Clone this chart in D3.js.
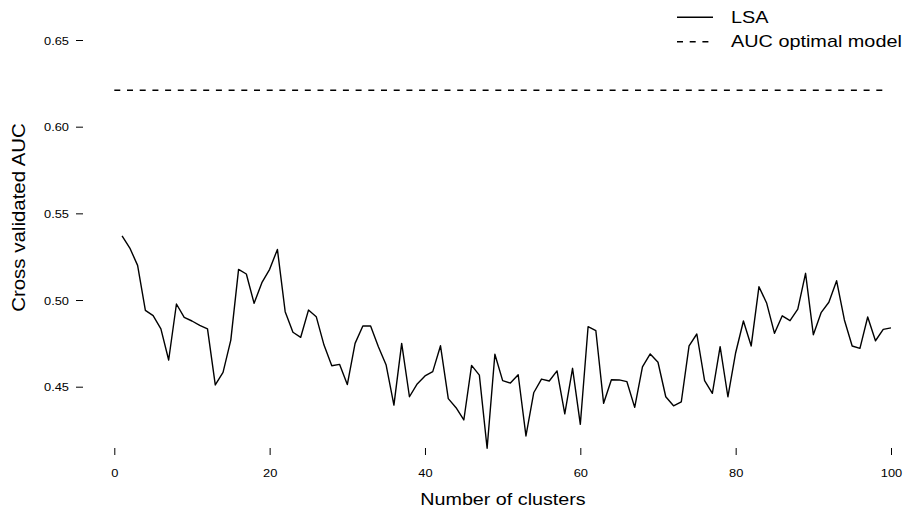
<!DOCTYPE html>
<html>
<head>
<meta charset="utf-8">
<script src="https://cdn.jsdelivr.net/npm/d3@7"></script>
<style>
  body { margin: 0; background: #fff; }
  text { font-family: "Liberation Sans", Arial, sans-serif; fill: #000; }
</style>
</head>
<body>
<div id="container"></div>
<script>
// chart size
let w = 908;
let h = 510;

// number of clusters 1..100
let clusters = d3.range(1, 101);
// cross validated AUC for LSA
let lsaAUC = [
  0.537, 0.530, 0.520, 0.494, 0.491, 0.4834, 0.4654, 0.4977, 0.490, 0.4879,
  0.4854, 0.4834, 0.451, 0.4583, 0.4769, 0.5177, 0.515, 0.4981, 0.510, 0.5177,
  0.5292, 0.4933, 0.4814, 0.4785, 0.4942, 0.4904, 0.4740, 0.4621, 0.4629, 0.4512,
  0.4750, 0.4850, 0.4850, 0.4731, 0.4625, 0.4394, 0.4750, 0.4442, 0.4516, 0.4562,
  0.4587, 0.4736, 0.4431, 0.4379, 0.4308, 0.4623, 0.4567, 0.4145, 0.4687, 0.4535,
  0.4521, 0.4569, 0.4216, 0.4465, 0.4544, 0.4533, 0.4591, 0.4343, 0.4606, 0.4283,
  0.4846, 0.4823, 0.4404, 0.4540, 0.4539, 0.4529, 0.4381, 0.4614, 0.4689, 0.4641,
  0.4442, 0.4390, 0.4413, 0.4735, 0.4804, 0.4535, 0.4462, 0.4731, 0.4442, 0.4696,
  0.4879, 0.4735, 0.5077, 0.4981, 0.4808, 0.4909, 0.4881, 0.4948, 0.5154, 0.4800,
  0.4927, 0.4987, 0.5111, 0.4885, 0.4735, 0.4721, 0.4902, 0.4765, 0.4831, 0.4839
];
// AUC of the optimal model (dashed reference line)
let optimalAUC = 0.621;
let optimalRange = [0, 99.5];

let xTicks = [0, 20, 40, 60, 80, 100];
let yTicks = [0.45, 0.50, 0.55, 0.60, 0.65];
let yTickLabels = ["0.45", "0.50", "0.55", "0.60", "0.65"];
let legendLabels = ["LSA", "AUC optimal model"];

let dash = "6,6.7";

let viz = d3.select("#container")
  .append("svg")
    .attr("width", w)
    .attr("height", h)
    .style("background-color", "white");

// scales
let xScale = d3.scaleLinear().domain([0, 100]).range([114.3, 891]);
let yScale = d3.scaleLinear().domain([0.45, 0.65]).range([386.7, 40]);

// x axis (ticks only, no axis line)
let xAxis = viz.append("g")
  .attr("transform", "translate(0,448)")
  .call(d3.axisBottom(xScale).tickValues(xTicks).tickSize(7).tickFormat(d3.format("d")));
xAxis.select(".domain").remove();
xAxis.selectAll("line").attr("stroke", "#000");
xAxis.selectAll("text")
  .attr("y", 0).attr("dy", null)
  .attr("transform", "translate(0,29) scale(1.09,1)")
  .style("font-size", "11.8px")
  .attr("font-family", null);

// y axis
let yAxis = viz.append("g")
  .attr("transform", "translate(83,0)")
  .call(d3.axisLeft(yScale).tickValues(yTicks).tickSize(7).tickFormat((d, i) => yTickLabels[i]));
yAxis.select(".domain").remove();
yAxis.selectAll("line").attr("stroke", "#000");
yAxis.selectAll("text")
  .attr("x", 0).attr("dy", "0.36em")
  .attr("transform", "translate(-14,0) scale(1.09,1)")
  .style("font-size", "11.8px")
  .attr("font-family", null);

// axis titles
viz.append("text")
  .attr("transform", "translate(503,505) scale(1.16,1)")
  .attr("text-anchor", "middle")
  .style("font-size", "17px")
  .text("Number of clusters");

viz.append("text")
  .attr("transform", "translate(25,217.5) rotate(-90) scale(1.1,1)")
  .attr("text-anchor", "middle")
  .style("font-size", "18.6px")
  .text("Cross validated AUC");

// dashed optimal line
let optimal = optimalRange.map(d => ({x: d, y: optimalAUC}));
let line = d3.line().x(d => xScale(d.x)).y(d => yScale(d.y));

viz.append("path")
  .datum(optimal)
  .attr("d", line)
  .attr("fill", "none")
  .attr("stroke", "#000")
  .attr("stroke-width", 1.5)
  .attr("stroke-dasharray", dash);

// LSA line
let lsa = clusters.map((c, i) => ({x: c, y: lsaAUC[i]}));
viz.append("path")
  .datum(lsa)
  .attr("d", line)
  .attr("fill", "none")
  .attr("stroke", "#000")
  .attr("stroke-width", 1.4)
  .attr("stroke-linejoin", "round");

// legend
let legend = viz.append("g");
let legendY = [17.3, 41.7];
legend.selectAll("line")
  .data(legendLabels).enter()
  .append("line")
    .attr("x1", 677).attr("x2", 713)
    .attr("y1", (d, i) => legendY[i]).attr("y2", (d, i) => legendY[i])
    .attr("stroke", "#000")
    .attr("stroke-width", 1.5)
    .attr("stroke-dasharray", (d, i) => i == 1 ? dash : null);
legend.selectAll("text")
  .data(legendLabels).enter()
  .append("text")
    .attr("transform", (d, i) => "translate(731," + (legendY[i] + 5.5) + ") scale(1.24,1)")
    .style("font-size", "16px")
    .text(d => d);
</script>
</body>
</html>
